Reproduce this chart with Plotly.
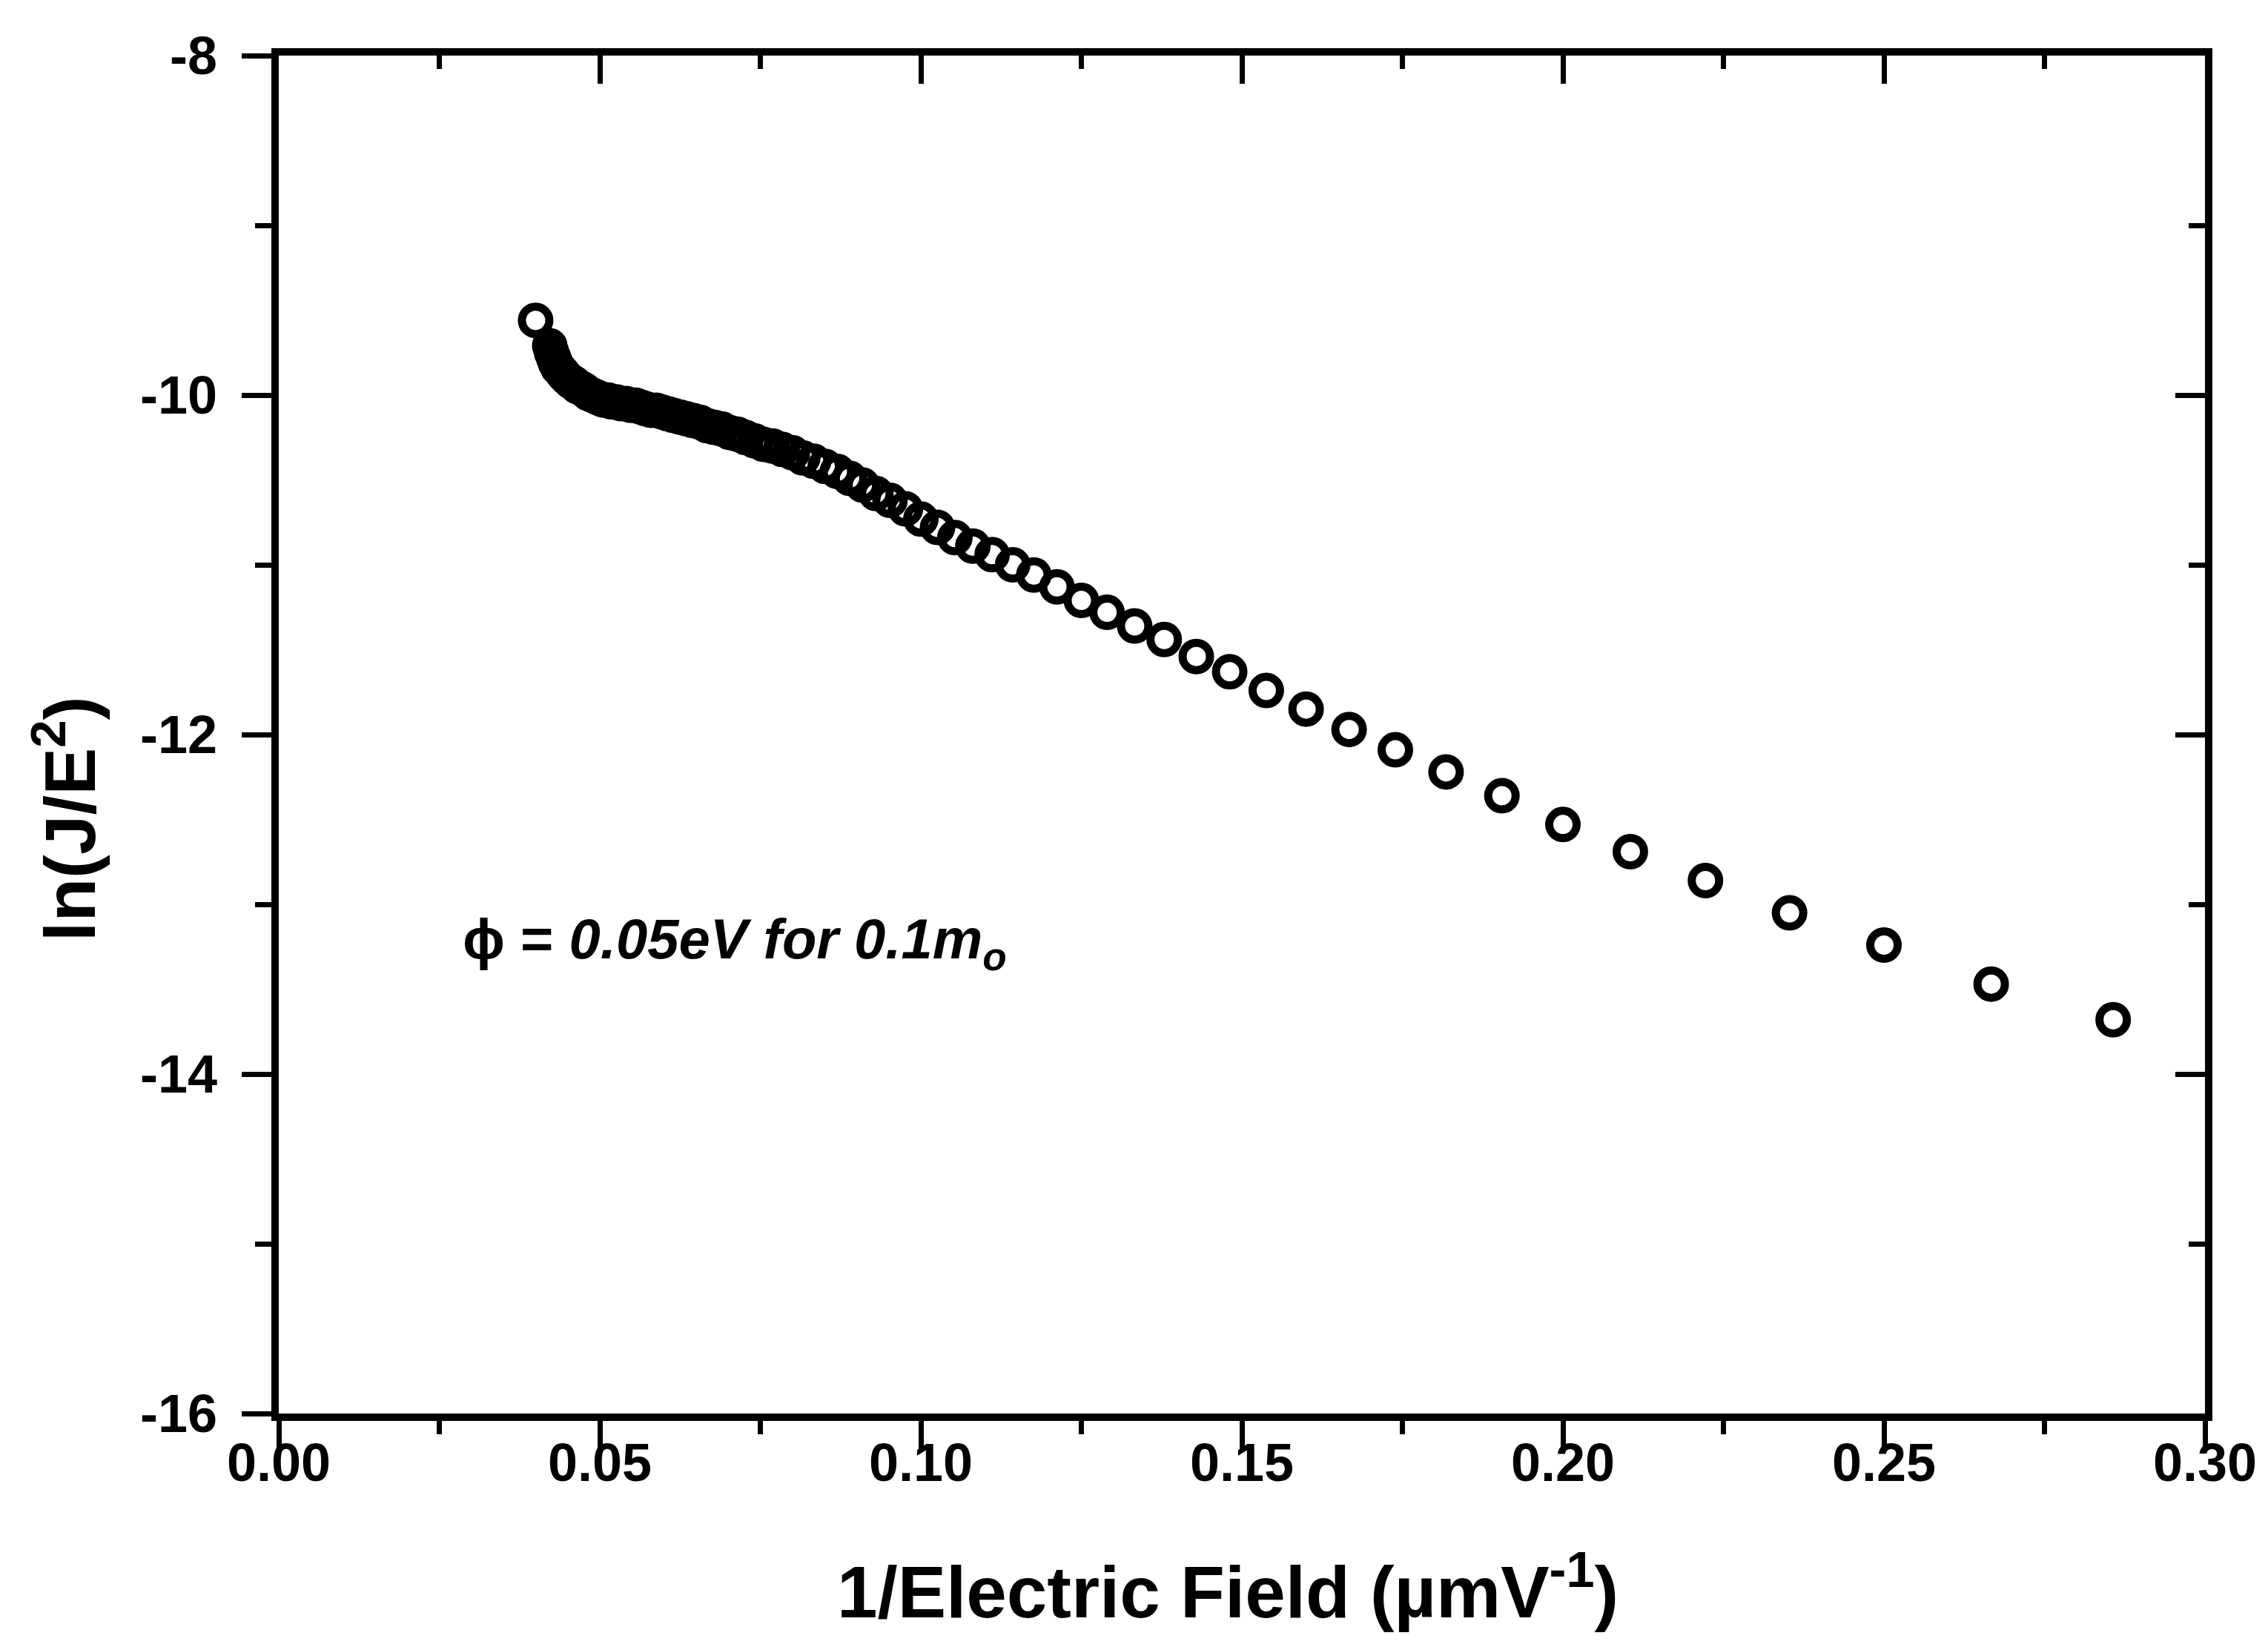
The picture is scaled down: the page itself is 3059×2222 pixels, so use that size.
import plotly.graph_objects as go

# 1/Electric field (um/V)
inv_field = [
    0.0400, 0.0422, 0.0425, 0.0428, 0.0431, 0.0435, 0.0440, 0.0444, 0.0449, 0.0455,
    0.0460, 0.0465, 0.0471, 0.0476, 0.0482, 0.0488, 0.0494,
    0.0500, 0.0506, 0.0513, 0.0519, 0.0526, 0.0533, 0.0541, 0.0548, 0.0556, 0.0563,
    0.0571, 0.0580, 0.0588, 0.0597, 0.0606, 0.0615, 0.0625, 0.0635, 0.0645, 0.0656,
    0.0667, 0.0678, 0.0690, 0.0702, 0.0714, 0.0727, 0.0741, 0.0755, 0.0769, 0.0784,
    0.0800, 0.0816, 0.0833, 0.0851, 0.0870, 0.0889, 0.0909, 0.0930, 0.0952, 0.0976,
    0.1000, 0.1026, 0.1053, 0.1081, 0.1111, 0.1143, 0.1176, 0.1212, 0.1250, 0.1290,
    0.1333, 0.1379, 0.1429, 0.1481, 0.1538, 0.1600, 0.1667, 0.1739, 0.1818, 0.1905,
    0.2000, 0.2105, 0.2222, 0.2353, 0.2500, 0.2667, 0.2857,
]

# ln(J/E^2)
ln_j_e2 = [
    -9.56, -9.71, -9.75, -9.78, -9.81, -9.84, -9.86, -9.88, -9.90, -9.92,
    -9.93, -9.95, -9.96, -9.97, -9.99, -10.00, -10.01,
    -10.02, -10.03, -10.03, -10.04, -10.04, -10.05, -10.05, -10.06, -10.06, -10.07,
    -10.08, -10.09, -10.09, -10.10, -10.11, -10.12, -10.13, -10.14, -10.15, -10.16,
    -10.18, -10.19, -10.20, -10.22, -10.23, -10.25, -10.27, -10.29, -10.30, -10.32,
    -10.34, -10.37, -10.39, -10.42, -10.45, -10.49, -10.53, -10.58, -10.62, -10.67,
    -10.73, -10.78, -10.84, -10.89, -10.94, -11.00, -11.06, -11.13, -11.21, -11.28,
    -11.36, -11.44, -11.54, -11.63, -11.74, -11.85, -11.97, -12.09, -12.22, -12.36,
    -12.53, -12.69, -12.86, -13.05, -13.24, -13.47, -13.68,
]

x_tick_vals = [0.00, 0.05, 0.10, 0.15, 0.20, 0.25, 0.30]
x_tick_text = ["0.00", "0.05", "0.10", "0.15", "0.20", "0.25", "0.30"]
y_tick_vals = [-16, -14, -12, -10, -8]
y_tick_text = ["-16", "-14", "-12", "-10", "-8"]

FONT = "Liberation Sans, Arial, sans-serif"
LW = 10
TICK_FONT = 72

fig = go.Figure()
fig.add_trace(go.Scatter(
    x=inv_field, y=ln_j_e2, mode="markers",
    marker=dict(symbol="circle-open", size=37, color="black", line=dict(width=11, color="black")),
    showlegend=False, hoverinfo="skip",
))
# helper trace so the mirrored (top/right) axes are drawn
fig.add_trace(go.Scatter(x=[None], y=[None], xaxis="x2", yaxis="y2", showlegend=False, hoverinfo="skip"))

common_x = dict(range=[0, 0.3], showgrid=False, zeroline=False, showline=True,
                linecolor="black", linewidth=LW, tickcolor="black", tickwidth=7,
                tickvals=x_tick_vals, showticklabels=False)
common_y = dict(range=[-16, -8], showgrid=False, zeroline=False, showline=True,
                linecolor="black", linewidth=LW, tickcolor="black", tickwidth=7,
                tickvals=y_tick_vals, showticklabels=False)

fig.update_layout(
    width=3059, height=2222,
    margin=dict(l=376, r=85, t=75, b=315),
    paper_bgcolor="white", plot_bgcolor="white",
    xaxis=dict(**common_x, ticks="outside", ticklen=38,
               minor=dict(dtick=0.025, tick0=0, ticks="outside", ticklen=18, tickwidth=7, tickcolor="black")),
    yaxis=dict(**common_y, ticks="outside", ticklen=40,
               minor=dict(dtick=1, tick0=-16, ticks="outside", ticklen=22, tickwidth=7, tickcolor="black")),
    xaxis2=dict(**common_x, overlaying="x", side="top", anchor="y2", ticks="inside", ticklen=38,
                minor=dict(dtick=0.025, tick0=0, ticks="inside", ticklen=18, tickwidth=7, tickcolor="black")),
    yaxis2=dict(**common_y, overlaying="y", side="right", anchor="x2", ticks="inside", ticklen=40,
                minor=dict(dtick=1, tick0=-16, ticks="inside", ticklen=22, tickwidth=7, tickcolor="black")),
)

# tick labels placed close to the tick marks, as in the original
for v, t in zip(x_tick_vals, x_tick_text):
    fig.add_annotation(text=f"<b>{t}</b>", x=v, xref="x", y=-0.036, yref="paper",
                       xanchor="center", yanchor="middle", showarrow=False,
                       font=dict(family=FONT, size=TICK_FONT, color="black"))
for v, t in zip(y_tick_vals, y_tick_text):
    fig.add_annotation(text=f"<b>{t}</b>", x=-0.031, xref="paper", y=v, yref="y",
                       xanchor="right", yanchor="middle", showarrow=False,
                       font=dict(family=FONT, size=TICK_FONT, color="black"))

fig.add_annotation(
    text="<b>1/Electric Field (\u00b5mV<sup>-1</sup>)</b>",
    xref="paper", yref="paper", x=0.4927, y=-0.128, xanchor="center", yanchor="middle",
    showarrow=False, font=dict(family=FONT, size=98, color="black"),
)
fig.add_annotation(
    text="<b>ln(J/E<sup>2</sup>)</b>",
    xref="paper", yref="paper", x=-0.111, y=0.438, xanchor="center", yanchor="middle",
    textangle=-90, showarrow=False, font=dict(family=FONT, size=96, color="black"),
)
fig.add_annotation(
    text="<b>\u03d5 = <i>0.05eV for 0.1m<sub>o</sub></i></b>",
    xref="paper", yref="paper", x=0.0947, y=0.3465, xanchor="left", yanchor="middle",
    showarrow=False, font=dict(family=FONT, size=76, color="black"),
)

fig.write_html("out.html")
